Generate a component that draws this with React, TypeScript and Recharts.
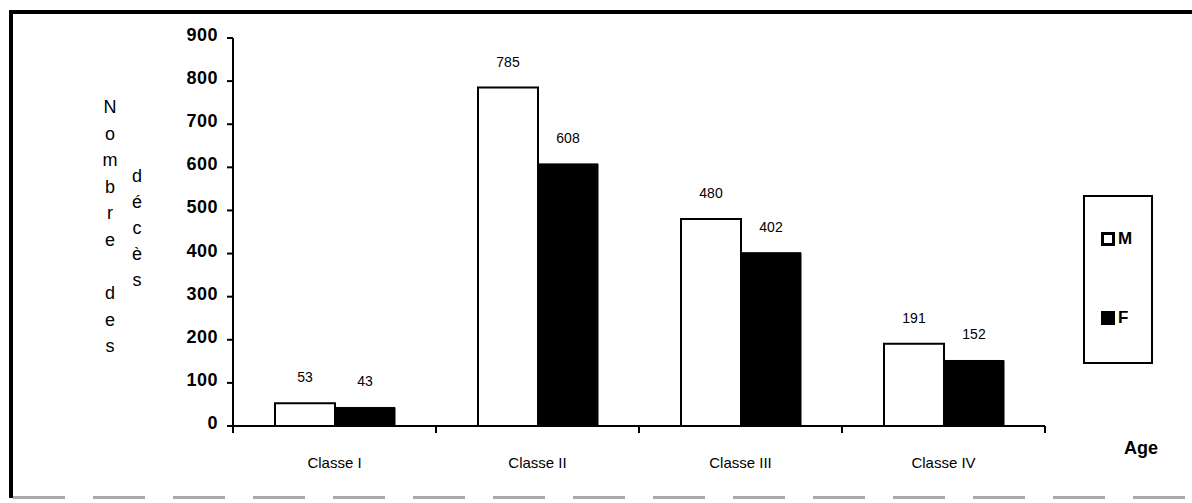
import { BarChart, Bar, XAxis, YAxis, LabelList, Legend } from 'recharts';

const CATEGORIES = ['Classe I', 'Classe II', 'Classe III', 'Classe IV'];
const MALES = [53, 785, 480, 191];
const FEMALES = [43, 608, 402, 152];
const SERIES = ['M', 'F'];
const Y_TICKS = [0, 100, 200, 300, 400, 500, 600, 700, 800, 900];
const Y_TITLE_COL1 = ['N', 'o', 'm', 'b', 'r', 'e', '', 'd', 'e', 's'];
const Y_TITLE_COL2 = ['d', 'é', 'c', 'è', 's'];
const X_TITLE = 'Age';

const FONT = '"Liberation Sans", Arial, Helvetica, sans-serif';

const W = 1192;
const H = 503;
const PLOT_LEFT = 233;
const PLOT_RIGHT = 1045;
const PLOT_TOP = 38;
const PLOT_BOTTOM = 426;
const Y_AXIS_W = 80;
const X_AXIS_H = 50;

const data = CATEGORIES.map((name, i) => ({ name, M: MALES[i], F: FEMALES[i] }));

function YTick({ x, y, payload }: any) {
  return (
    <text
      x={x}
      y={y - 3}
      textAnchor="end"
      dominantBaseline="central"
      fontFamily={FONT}
      fontWeight="bold"
      fontSize={18}
      letterSpacing={0.5}
      fill="#000"
    >
      {payload.value}
    </text>
  );
}

// category labels sit at band centres, tick marks at band edges
function XTick({ x, y, payload, index }: any) {
  const half = payload.offset ?? (PLOT_RIGHT - PLOT_LEFT) / CATEGORIES.length / 2;
  const isLast = index === CATEGORIES.length - 1;
  return (
    <g>
      <line x1={x - half} x2={x - half} y1={y - 6} y2={y + 1} stroke="#000" strokeWidth={2} />
      {isLast && (
        <line x1={x + half} x2={x + half} y1={y - 6} y2={y + 1} stroke="#000" strokeWidth={2} />
      )}
      <text
        x={x}
        y={y + 30}
        textAnchor="middle"
        dominantBaseline="central"
        fontFamily={FONT}
        fontSize={15}
        fill="#000"
      >
        {payload.value}
      </text>
    </g>
  );
}

function YTitle() {
  return (
    <g fontFamily={FONT} fontSize={18} fill="#000" textAnchor="middle">
      {Y_TITLE_COL1.map((ch, i) => (
        <text key={'a' + i} x={110} y={107 + i * 26.6} dominantBaseline="central">
          {ch}
        </text>
      ))}
      {Y_TITLE_COL2.map((ch, i) => (
        <text key={'b' + i} x={137} y={176 + i * 26} dominantBaseline="central">
          {ch}
        </text>
      ))}
    </g>
  );
}

function XTitle() {
  return (
    <text
      x={1141}
      y={448}
      textAnchor="middle"
      dominantBaseline="central"
      fontFamily={FONT}
      fontWeight="bold"
      fontSize={18}
      fill="#000"
    >
      {X_TITLE}
    </text>
  );
}

function LegendBox({ payload }: any) {
  const items = [...(payload || [])].sort(
    (a: any, b: any) => SERIES.indexOf(a.value) - SERIES.indexOf(b.value)
  );
  return (
    <div
      style={{
        width: 70,
        height: 169,
        border: '2px solid #000',
        boxSizing: 'border-box',
        paddingTop: 34,
        paddingLeft: 16,
        fontFamily: FONT,
      }}
    >
      {items.map((entry: any, i: number) => {
        const hollow = entry.value === 'M';
        return (
          <div
            key={i}
            style={{ display: 'flex', alignItems: 'center', height: 16, marginBottom: 63 }}
          >
            <div
              style={{
                width: 14,
                height: 14,
                boxSizing: 'border-box',
                background: hollow ? '#fff' : '#000',
                border: '3px solid #000',
              }}
            />
            <span style={{ marginLeft: 3, fontSize: 17, fontWeight: 'bold', color: '#000' }}>
              {entry.value}
            </span>
          </div>
        );
      })}
    </div>
  );
}

export default function App() {
  return (
    <div style={{ position: 'absolute', left: 0, top: 0, width: W, height: H, background: '#fff' }}>
      {/* scanned frame */}
      <div style={{ position: 'absolute', left: 9, top: 10, width: W - 9, height: 4, background: '#000' }} />
      <div style={{ position: 'absolute', left: 9, top: 10, width: 4, height: 488, background: '#000' }} />
      <div
        style={{
          position: 'absolute',
          left: 13,
          top: 496,
          width: W - 13,
          height: 3,
          background: 'repeating-linear-gradient(90deg, #aaa 0 52px, transparent 52px 80px)',
        }}
      />

      <BarChart
        width={W}
        height={H}
        data={data}
        barGap={0}
        barSize={60}
        margin={{
          top: PLOT_TOP,
          right: W - PLOT_RIGHT,
          bottom: H - PLOT_BOTTOM - X_AXIS_H,
          left: PLOT_LEFT - Y_AXIS_W,
        }}
        style={{ position: 'absolute', left: 0, top: 0 }}
      >
        <XAxis
          dataKey="name"
          height={X_AXIS_H}
          axisLine={{ stroke: '#000', strokeWidth: 2 }}
          tickLine={false}
          tickSize={6}
          tickMargin={0}
          tick={<XTick />}
          interval={0}
          label={<XTitle />}
        />
        <YAxis
          width={Y_AXIS_W}
          domain={[0, 900]}
          ticks={Y_TICKS}
          interval={0}
          axisLine={{ stroke: '#000', strokeWidth: 2 }}
          tickLine={{ stroke: '#000', strokeWidth: 2 }}
          tickSize={6}
          tickMargin={9}
          tick={<YTick />}
          label={<YTitle />}
        />
        <Legend
          layout="vertical"
          align="center"
          verticalAlign="middle"
          content={<LegendBox />}
          wrapperStyle={{ left: 1083, top: 195, width: 70, height: 169 }}
        />
        <Bar dataKey="M" name="M" fill="#fff" stroke="#000" strokeWidth={2} isAnimationActive={false}>
          <LabelList
            dataKey="M"
            position="top"
            offset={21}
            fontFamily={FONT}
            fontSize={14}
            fill="#000"
          />
        </Bar>
        <Bar dataKey="F" name="F" fill="#000" stroke="#000" strokeWidth={1} isAnimationActive={false}>
          <LabelList
            dataKey="F"
            position="top"
            offset={21}
            fontFamily={FONT}
            fontSize={14}
            fill="#000"
          />
        </Bar>
      </BarChart>
    </div>
  );
}
